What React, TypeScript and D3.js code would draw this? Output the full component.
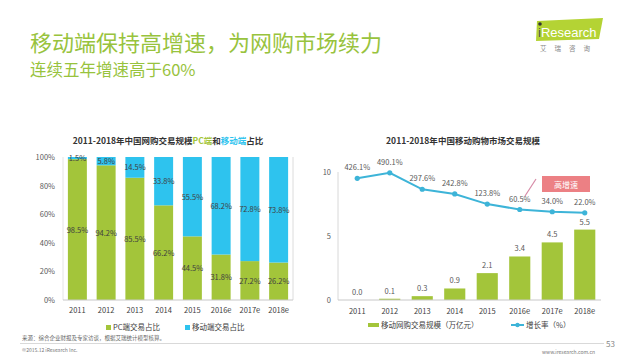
import React from "react";
import * as d3 from "d3";

const categories = ["2011", "2012", "2013", "2014", "2015", "2016e", "2017e", "2018e"];
const pcShare = [98.5, 94.2, 85.5, 66.2, 44.5, 31.8, 27.2, 26.2];
const mobileShare = [1.5, 5.8, 14.5, 33.8, 55.5, 68.2, 72.8, 73.8];
const shareTicks = [0, 20, 40, 60, 80, 100];
const mobileScale = [0.0, 0.1, 0.3, 0.9, 2.1, 3.4, 4.5, 5.5];
const growthRate = [426.1, 490.1, 297.6, 242.8, 123.8, 60.5, 34.0, 22.0];
const scaleTicks = [0, 5, 10];

const GREEN = "#a3c53a";
const BLUE = "#2ec3ee";
const LINE = "#3db4d8";
const TITLE_GREEN = "#98c33d";
const FONT = "'Noto Sans CJK SC', 'Noto Sans', sans-serif";

export default function App() {
  const xL = d3.scaleBand<string>().domain(categories).range([63, 293]).paddingInner(0.34).paddingOuter(0.17);
  const yL = d3.scaleLinear().domain([0, 100]).range([300, 157]);
  const xR = d3.scaleBand<string>().domain(categories).range([341, 601]).paddingInner(0.35).paddingOuter(0.175);
  const yR = d3.scaleLinear().domain([0, 10]).range([300, 172]);
  const yG = d3.scaleLinear().domain([-1000, 500]).range([300, 172]);

  const linePath = d3
    .line<number>()
    .x((_, i) => (xR(categories[i]) as number) + xR.bandwidth() / 2)
    .y((d) => yG(d))(growthRate) as string;

  return (
    <svg width={640} height={360} style={{ position: "absolute", left: 0, top: 0, fontFamily: FONT }}>
      <rect x={0} y={0} width={640} height={360} fill="#ffffff" />
      {/* header */}
      <text x={30} y={51} fontSize={22} fill={TITLE_GREEN}>移动端保持高增速，为网购市场续力</text>
      <text x={30} y={76} fontSize={16.5} fill={TITLE_GREEN}>连续五年增速高于60%</text>
      {/* logo */}
      <path d="M537,21 L603,18 L599,39 L536,41 Z" fill="#b4d334" />
      <circle cx={540} cy={24} r={1.8} fill="#333" />
      <text x={538} y={36.5} fontSize={13} fill="#ffffff" fontFamily="'Liberation Sans', Arial, sans-serif">
        <tspan fill="#555">i</tspan>Research
      </text>
      <text x={540} y={51} fontSize={6.5} fill="#888" letterSpacing={8}>艾瑞咨询</text>

      {/* left chart */}
      <text x={168} y={144} fontSize={8.5} fontWeight="bold" textAnchor="middle" fill="#333">
        2011-2018年中国网购交易规模<tspan fill={GREEN}>PC端</tspan>和<tspan fill={BLUE}>移动端</tspan>占比
      </text>
      <line x1={63} x2={63} y1={157} y2={300} stroke="#e4e4e4" />
      <line x1={293} x2={293} y1={157} y2={300} stroke="#dcdcdc" />
      {shareTicks.map((t) => (
        <text key={t} x={55} y={yL(t) + 3} fontSize={7.5} textAnchor="end" fill="#595959">{t}%</text>
      ))}
      {categories.map((c, i) => {
        const x = xL(c) as number;
        const w = xL.bandwidth();
        const pcTop = yL(pcShare[i]);
        return (
          <g key={c}>
            <rect x={x} y={pcTop} width={w} height={300 - pcTop} fill={GREEN} />
            <rect x={x} y={yL(100)} width={w} height={pcTop - yL(100)} fill={BLUE} />
            <text x={x + w / 2} y={(pcTop + 300) / 2 + 3} fontSize={7.5} textAnchor="middle" fill="#404040">{pcShare[i].toFixed(1)}%</text>
            <text x={x + w / 2} y={(pcTop + yL(100)) / 2 + 3} fontSize={7.5} textAnchor="middle" fill="#404040">{mobileShare[i].toFixed(1)}%</text>
            <text x={x + w / 2} y={313} fontSize={7.5} textAnchor="middle" fill="#404040">{c}</text>
          </g>
        );
      })}
      <line x1={63} x2={293} y1={300} y2={300} stroke="#c8c8c8" />
      <rect x={106} y={325} width={5} height={5} fill={GREEN} />
      <text x={113} y={330} fontSize={7.5} fill="#404040">PC端交易占比</text>
      <rect x={185} y={325} width={5} height={5} fill={BLUE} />
      <text x={192} y={330} fontSize={7.5} fill="#404040">移动端交易占比</text>

      {/* right chart */}
      <text x={463} y={144} fontSize={8.5} fontWeight="bold" textAnchor="middle" fill="#333">
        2011-2018年中国移动购物市场交易规模
      </text>
      <line x1={338} x2={338} y1={172} y2={300} stroke="#d8d8d8" />
      {scaleTicks.map((t) => (
        <text key={t} x={331} y={yR(t) + 3} fontSize={7.5} textAnchor="end" fill="#595959">{t}</text>
      ))}
      {categories.map((c, i) => {
        const x = xR(c) as number;
        const w = xR.bandwidth();
        const top = yR(mobileScale[i]);
        return (
          <g key={c}>
            <rect x={x} y={top} width={w} height={300 - top} fill={GREEN} />
            <text x={x + w / 2} y={top - 5} fontSize={7.5} textAnchor="middle" fill="#595959">{mobileScale[i].toFixed(1)}</text>
            <text x={x + w / 2} y={314} fontSize={7.5} textAnchor="middle" fill="#404040">{c}</text>
          </g>
        );
      })}
      <line x1={338} x2={601} y1={300} y2={300} stroke="#c8c8c8" />
      <path d={linePath} fill="none" stroke={LINE} strokeWidth={2} />
      {growthRate.map((g, i) => {
        const cx = (xR(categories[i]) as number) + xR.bandwidth() / 2;
        return (
          <g key={i}>
            <circle cx={cx} cy={yG(g)} r={2.6} fill={LINE} />
            <text x={cx} y={yG(g) - 8} fontSize={7.5} textAnchor="middle" fill="#595959">{g.toFixed(1)}%</text>
          </g>
        );
      })}
      {/* annotation */}
      <line x1={525} y1={196} x2={536} y2={179} stroke="#d68aa6" strokeWidth={1.2} />
      <rect x={542} y={176} width={48} height={16} fill="#ec8084" />
      <text x={566} y={187.5} fontSize={8} textAnchor="middle" fill="#ffffff">高增速</text>
      {/* right legend */}
      <rect x={368} y={323} width={11} height={4} fill={GREEN} />
      <text x={381} y={328} fontSize={7.5} fill="#404040">移动网购交易规模（万亿元）</text>
      <line x1={511} x2={524} y1={325} y2={325} stroke={LINE} strokeWidth={2} />
      <circle cx={517.5} cy={325} r={2.2} fill={LINE} />
      <text x={526} y={328} fontSize={7.5} fill="#404040">增长率（%）</text>

      {/* footer */}
      <text x={22} y={340} fontSize={5.5} fill="#666">来源：综合企业财报及专家访谈，根据艾瑞统计模型核算。</text>
      <line x1={20} x2={604} y1={343.5} y2={343.5} stroke="#cfcfcf" strokeWidth={0.8} />
      <text x={606} y={347} fontSize={8} fill="#888">53</text>
      <text x={22} y={352} fontSize={5} fill="#777">©2015.12 iResearch Inc.</text>
      <text x={595} y={354} fontSize={5} textAnchor="end" fill="#777">www.iresearch.com.cn</text>
    </svg>
  );
}
